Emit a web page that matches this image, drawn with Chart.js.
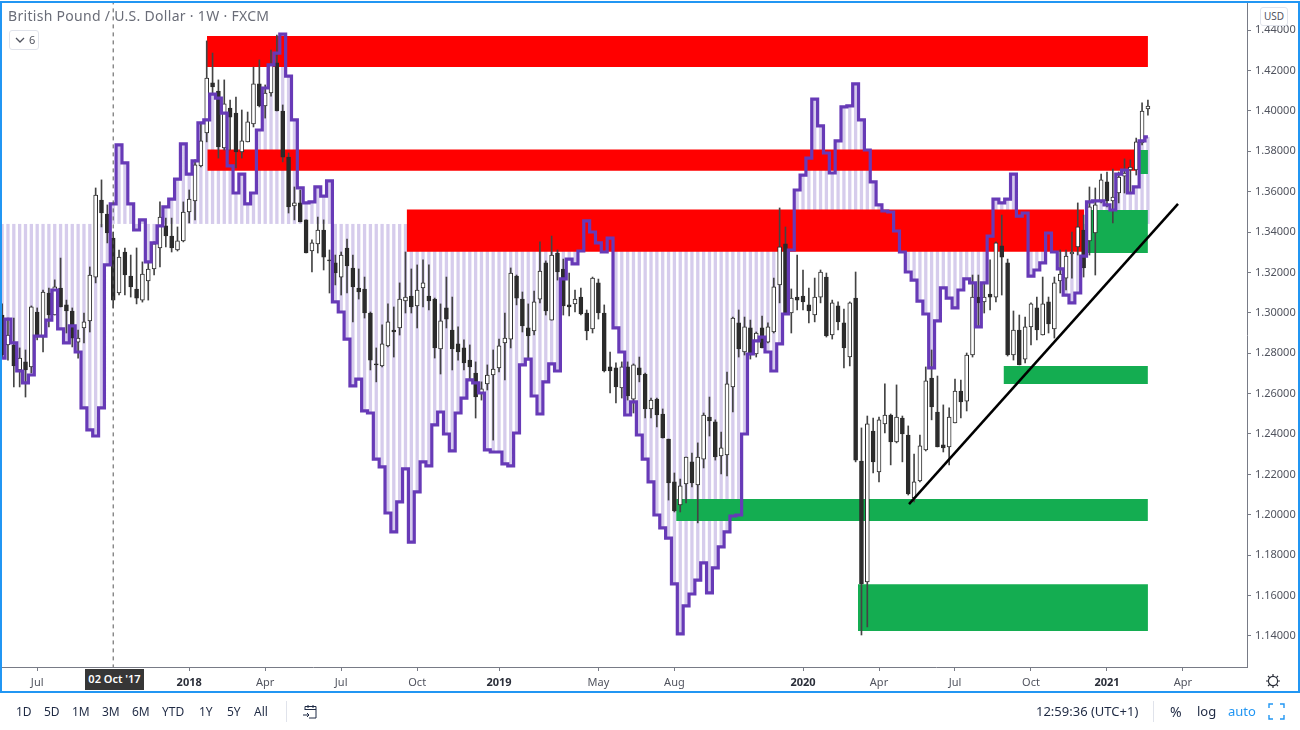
<!DOCTYPE html>
<html>
<head>
<meta charset="utf-8">
<title>British Pound / U.S. Dollar</title>
<script src="https://cdn.jsdelivr.net/npm/chart.js@4/dist/chart.umd.js"></script>
<style>
    html, body { margin: 0; padding: 0; background: #fff; width: 1300px; height: 730px; overflow: hidden; font-family: "Noto Sans", sans-serif; }
    #wrap { position: relative; width: 1300px; height: 730px; }
    canvas { position: absolute; left: 0; top: 0; }
    #frame { position: absolute; left: 0; top: 1px; width: 1296px; height: 688px; border: 2px solid #2196f3; pointer-events: none; }
    .txt { position: absolute; white-space: nowrap; }
    #title { left: 8px; top: 6px; font-size: 14px; letter-spacing: 0.3px; color: #6a6d78; }
    #legendBtn { left: 9px; top: 30px; width: 28px; height: 18px; border: 1px solid #e0e3eb; border-radius: 3px; background: #fff; font-size: 11px; color: #50535e; line-height: 18px; }
    #legendBtn span { position: absolute; left: 19px; }
    #legendBtn svg { position: absolute; left: 5px; top: 6px; }
    #usd { left: 1260px; top: 7px; width: 26px; height: 17px; border: 1px solid #e0e3eb; border-radius: 3px; background: #fff; font-size: 10px; color: #50535e; line-height: 17px; text-align: center; }
    #crossDate { left: 85px; top: 669px; width: 59px; height: 21px; background: #363636; color: #fff; font-size: 11px; line-height: 19px; text-align: center; font-weight: 600; }
    .range { top: 703px; font-size: 12px; color: #1f2a44; }
    .sep { position: absolute; top: 701px; width: 1px; height: 21px; background: #e0e3eb; }
</style>
</head>
<body>
<div id="wrap">
    <canvas id="chart" width="1300" height="730"></canvas>
    <div id="frame"></div>
    <div class="txt" id="title">British Pound / U.S. Dollar · 1W · FXCM</div>
    <div class="txt" id="legendBtn"><svg width="10" height="6" viewBox="0 0 10 6"><path d="M1 1l4 4 4-4" fill="none" stroke="#50535e" stroke-width="1.3"/></svg><span>6</span></div>
    <div class="txt" id="usd">USD</div>
    <div class="txt" id="crossDate">02 Oct '17</div>
    <div id="rangeBar"></div>
    <div class="sep" style="left:286px"></div>
    <svg style="position:absolute;left:302px;top:703px" width="17" height="17" viewBox="0 0 17 17"><path d="M3 7V3.5h11V15H7M3 6.5h11M6 2v3M11 2v3M1 12h6M5 10l2 2-2 2" fill="none" stroke="#1f2a44" stroke-width="1"/></svg>
    <div class="txt" style="left:1036px;top:702px;font-size:13px;color:#1f2a44">12:59:36 (UTC+1)</div>
    <div class="sep" style="left:1153px"></div>
    <div class="txt" style="left:1170px;top:702px;font-size:14px;color:#1f2a44">%</div>
    <div class="txt" style="left:1197px;top:702px;font-size:13px;color:#1f2a44">log</div>
    <div class="txt" style="left:1228px;top:702px;font-size:13px;color:#2196f3">auto</div>
    <svg style="position:absolute;left:1268px;top:703px" width="17" height="17" viewBox="0 0 17 17"><path d="M1 5V1h4M12 1h4v4M16 12v4h-4M5 16H1v-4" fill="none" stroke="#2196f3" stroke-width="1.4"/></svg>
    <svg style="position:absolute;left:1265px;top:673px" width="16" height="16" viewBox="0 0 16 16"><circle cx="8" cy="8" r="4.6" fill="none" stroke="#2a2e39" stroke-width="1.2"/><path d="M8 1v2.4M8 12.6V15M1 8h2.4M12.6 8H15M3 3l1.7 1.7M11.3 11.3L13 13M13 3l-1.7 1.7M4.7 11.3L3 13" stroke="#2a2e39" stroke-width="1.2"/></svg>
</div>
<script>
// weekly candles (first bar = late May 2017)
const opens = [1.2989,1.2841,1.2841,1.2717,1.2757,1.2732,1.3004,1.2880,1.3098,1.2989,1.3123,1.3039,1.3009,1.2855,1.2925,1.2960,1.3177,1.3558,1.3489,1.3370,1.3098,1.3301,1.3182,1.3118,1.3063,1.3158,1.3217,1.3321,1.3430,1.3380,1.3311,1.3356,1.3499,1.3554,1.3727,1.3890,1.4138,1.4098,1.3816,1.4014,1.3989,1.3796,1.3846,1.3935,1.4133,1.4024,1.4088,1.4237,1.3999,1.3771,1.3529,1.3544,1.3460,1.3306,1.3341,1.3410,1.3262,1.3247,1.3177,1.3321,1.3222,1.3123,1.3118,1.2999,1.2747,1.2737,1.2836,1.2915,1.2925,1.3059,1.3083,1.3034,1.3123,1.3083,1.3068,1.2821,1.3024,1.2915,1.2846,1.2826,1.2766,1.2702,1.2603,1.2648,1.2692,1.2727,1.2851,1.2870,1.3182,1.3068,1.2925,1.2910,1.3068,1.3247,1.2964,1.3296,1.3217,1.3039,1.3044,1.3078,1.2999,1.2920,1.3148,1.2999,1.2732,1.2727,1.2628,1.2732,1.2573,1.2727,1.2697,1.2524,1.2573,1.2499,1.2375,1.2163,1.2049,1.2153,1.2262,1.2148,1.2276,1.2484,1.2460,1.2291,1.2296,1.2633,1.2950,1.2806,1.2925,1.2796,1.2925,1.2855,1.2905,1.3138,1.3341,1.2999,1.3078,1.3083,1.3039,1.2989,1.3078,1.3177,1.2890,1.3034,1.2950,1.2781,1.3073,1.2266,1.1668,1.2415,1.2212,1.2450,1.2494,1.2361,1.2479,1.2395,1.2083,1.2168,1.2321,1.2677,1.2509,1.2346,1.2336,1.2455,1.2613,1.2563,1.2791,1.3078,1.3054,1.3093,1.3078,1.3331,1.3247,1.2791,1.2915,1.2771,1.2930,1.3024,1.2890,1.3054,1.2920,1.3158,1.3172,1.3291,1.3326,1.3410,1.3356,1.3395,1.3554,1.3648,1.3554,1.3593,1.3677,1.3707,1.3707,1.3841,1.4009];
const highs = [1.3044,1.2974,1.2974,1.2826,1.2816,1.3034,1.3024,1.3113,1.3123,1.3163,1.3271,1.3063,1.3024,1.2915,1.2999,1.3227,1.3618,1.3658,1.3534,1.3400,1.3311,1.3321,1.3286,1.3321,1.3252,1.3252,1.3351,1.3549,1.3469,1.3469,1.3425,1.3549,1.3608,1.3757,1.3940,1.4346,1.4286,1.4153,1.4153,1.4053,1.4068,1.4004,1.3994,1.4217,1.4252,1.4128,1.4301,1.4375,1.4029,1.3791,1.3623,1.3608,1.3460,1.3361,1.3474,1.3460,1.3311,1.3286,1.3301,1.3365,1.3286,1.3217,1.3177,1.3004,1.2826,1.2940,1.3044,1.3029,1.3148,1.3301,1.3217,1.3237,1.3262,1.3237,1.3073,1.3044,1.3177,1.3078,1.2930,1.2866,1.2841,1.2757,1.2658,1.2742,1.2816,1.2870,1.2999,1.3222,1.3187,1.3103,1.3044,1.3108,1.3351,1.3257,1.3380,1.3311,1.3266,1.3197,1.3113,1.3123,1.3014,1.3177,1.3167,1.3039,1.2806,1.2752,1.2757,1.2757,1.2747,1.2781,1.2702,1.2578,1.2578,1.2524,1.2375,1.2207,1.2177,1.2286,1.2306,1.2356,1.2504,1.2583,1.2470,1.2410,1.2707,1.2979,1.3014,1.2979,1.2964,1.2905,1.2984,1.2950,1.3172,1.3519,1.3425,1.3118,1.3286,1.3212,1.3123,1.3172,1.3212,1.3197,1.3063,1.3054,1.3019,1.3054,1.3202,1.2430,1.2489,1.2479,1.2484,1.2648,1.2499,1.2643,1.2489,1.2440,1.2301,1.2395,1.2732,1.2816,1.2687,1.2544,1.2529,1.2672,1.2667,1.2801,1.3187,1.3187,1.3148,1.3262,1.3351,1.3484,1.3266,1.3009,1.2989,1.2979,1.3049,1.3078,1.3177,1.3078,1.3177,1.3311,1.3311,1.3400,1.3544,1.3484,1.3623,1.3618,1.3687,1.3697,1.3712,1.3697,1.3762,1.3757,1.3865,1.4039,1.4053];
const lows = [1.2776,1.2766,1.2633,1.2633,1.2583,1.2702,1.2866,1.2806,1.2930,1.2989,1.3029,1.2900,1.2831,1.2776,1.2851,1.2905,1.3148,1.3425,1.3346,1.3024,1.3088,1.3088,1.3078,1.3044,1.3053,1.3063,1.3187,1.3227,1.3326,1.3301,1.3306,1.3351,1.3445,1.3460,1.3722,1.3846,1.4088,1.3766,1.3806,1.3806,1.3717,1.3766,1.3846,1.3920,1.4019,1.3964,1.4073,1.3999,1.3747,1.3494,1.3460,1.3450,1.3296,1.3202,1.3296,1.3212,1.3098,1.3138,1.3088,1.3098,1.2955,1.3068,1.2974,1.2717,1.2658,1.2732,1.2831,1.2781,1.2890,1.2999,1.2999,1.2925,1.3029,1.3014,1.2776,1.2697,1.2925,1.2717,1.2766,1.2717,1.2668,1.2479,1.2568,1.2618,1.2370,1.2707,1.2668,1.2826,1.3039,1.2905,1.2776,1.2890,1.3049,1.2989,1.2964,1.3162,1.2989,1.2984,1.3004,1.2989,1.2866,1.2900,1.2969,1.2707,1.2603,1.2554,1.2578,1.2568,1.2504,1.2658,1.2479,1.2479,1.2435,1.2380,1.2073,1.2014,1.2014,1.2059,1.2138,1.1960,1.2232,1.2390,1.2271,1.2202,1.2192,1.2509,1.2781,1.2791,1.2771,1.2781,1.2826,1.2851,1.2900,1.3049,1.2999,1.2900,1.3014,1.3014,1.2950,1.2955,1.3049,1.2880,1.2870,1.2915,1.2727,1.2737,1.2262,1.1405,1.1445,1.2207,1.2163,1.2405,1.2247,1.2356,1.2262,1.2098,1.2064,1.2163,1.2316,1.2470,1.2336,1.2311,1.2247,1.2455,1.2479,1.2514,1.2781,1.2930,1.2999,1.3014,1.3054,1.3088,1.2786,1.2766,1.2742,1.2752,1.2841,1.2866,1.2890,1.2900,1.2875,1.3098,1.3113,1.3172,1.3286,1.3177,1.3286,1.3187,1.3544,1.3524,1.3445,1.3544,1.3593,1.3598,1.3682,1.3831,1.3979];
const closes = [1.2791,1.2890,1.2737,1.2776,1.2717,1.3029,1.2890,1.3103,1.2989,1.3128,1.3029,1.3009,1.2875,1.2875,1.2955,1.3187,1.3583,1.3494,1.3395,1.3063,1.3276,1.3187,1.3128,1.3073,1.3192,1.3217,1.3341,1.3474,1.3380,1.3321,1.3356,1.3499,1.3563,1.3732,1.3851,1.4162,1.4118,1.3821,1.4034,1.3969,1.3796,1.3851,1.3945,1.4133,1.4024,1.4088,1.4227,1.3999,1.3771,1.3524,1.3544,1.3450,1.3296,1.3346,1.3410,1.3276,1.3257,1.3197,1.3286,1.3232,1.3128,1.3103,1.2999,1.2766,1.2742,1.2846,1.2955,1.2905,1.3068,1.3078,1.3029,1.3113,1.3148,1.3059,1.2826,1.2960,1.2969,1.2821,1.2806,1.2752,1.2732,1.2583,1.2623,1.2692,1.2722,1.2836,1.2875,1.3197,1.3073,1.2935,1.2885,1.3054,1.3207,1.3009,1.3286,1.3202,1.3034,1.3029,1.3068,1.2994,1.2910,1.3172,1.2999,1.2712,1.2712,1.2633,1.2732,1.2588,1.2742,1.2692,1.2524,1.2568,1.2494,1.2380,1.2158,1.2019,1.2143,1.2286,1.2158,1.2286,1.2494,1.2465,1.2286,1.2331,1.2648,1.2974,1.2821,1.2930,1.2791,1.2900,1.2826,1.2930,1.3128,1.3326,1.2999,1.3073,1.3063,1.3054,1.3009,1.3078,1.3202,1.2885,1.3049,1.2955,1.2826,1.3049,1.2271,1.1658,1.2450,1.2262,1.2470,1.2494,1.2361,1.2484,1.2400,1.2103,1.2163,1.2341,1.2663,1.2534,1.2336,1.2331,1.2484,1.2613,1.2559,1.2791,1.3078,1.3049,1.3078,1.3078,1.3346,1.3276,1.2791,1.2915,1.2742,1.2930,1.3044,1.2915,1.3044,1.2945,1.3148,1.3192,1.3281,1.3301,1.3425,1.3222,1.3524,1.3534,1.3658,1.3554,1.3573,1.3672,1.3692,1.3722,1.3846,1.3999,1.4024];

// purple stepped line (same weeks), and the level its hatching hangs from
const stepValues = [1.2776,1.2969,1.2851,1.2712,1.2653,1.2692,1.2885,1.2885,1.2964,1.3113,1.2920,1.2851,1.2935,1.2806,1.2529,1.2420,1.2390,1.2529,1.3237,1.3539,1.3831,1.3742,1.3539,1.3410,1.3460,1.3252,1.3346,1.3430,1.3524,1.3563,1.3662,1.3836,1.3687,1.3752,1.3940,1.3955,1.4083,1.4063,1.3989,1.3727,1.3593,1.3687,1.3539,1.3593,1.3905,1.4113,1.4227,1.4286,1.4380,1.4172,1.3955,1.3618,1.3544,1.3549,1.3623,1.3578,1.3653,1.3054,1.3004,1.2870,1.2638,1.2672,1.2514,1.2504,1.2276,1.2237,1.2009,1.1915,1.2064,1.2227,1.1865,1.2113,1.2262,1.2242,1.2445,1.2509,1.2400,1.2316,1.2504,1.2578,1.2668,1.2653,1.2603,1.2321,1.2311,1.2311,1.2252,1.2242,1.2405,1.2742,1.2771,1.2588,1.2499,1.2658,1.2747,1.2712,1.3168,1.3266,1.3242,1.3306,1.3455,1.3400,1.3346,1.3301,1.3370,1.2925,1.2806,1.2494,1.2559,1.2395,1.2276,1.2163,1.1999,1.1935,1.1885,1.1658,1.1410,1.1549,1.1608,1.1677,1.1762,1.1613,1.1737,1.1841,1.1915,1.1994,1.1999,1.2400,1.2796,1.2861,1.2880,1.2806,1.2712,1.2846,1.2994,1.3311,1.3608,1.3682,1.3766,1.4058,1.3925,1.3791,1.3692,1.3851,1.4019,1.4024,1.4133,1.3955,1.3806,1.3648,1.3534,1.3504,1.3499,1.3405,1.3301,1.3202,1.3162,1.3058,1.2994,1.2727,1.2960,1.3123,1.3073,1.3024,1.3113,1.3168,1.3148,1.2930,1.3148,1.3380,1.3563,1.3544,1.3563,1.3687,1.3479,1.3494,1.3182,1.3212,1.3247,1.3395,1.3301,1.3217,1.3088,1.3049,1.3098,1.3281,1.3549,1.3554,1.3554,1.3534,1.3509,1.3687,1.3707,1.3593,1.3623,1.3851,1.3871];
const baseLevel = 1.344;

// drawn zones: [first week, last week, low, high]
const redZones = [[35.05, 196, 1.4217, 1.4370], [35.1, 194, 1.3703, 1.3809], [69.2, 185.1, 1.3302, 1.3512]];
const greenZones = [[194.3, 196, 1.3687, 1.3806], [185.3, 196, 1.3296, 1.3509], [171.3, 196, 1.2648, 1.2737], [115.3, 196, 1.1969, 1.2078], [146.4, 196, 1.1425, 1.1656]];
const trendLine = [[155.13, 1.2053], [201.15, 1.3539]];
const crossWeek = 19;

const priceTicks = [1.14,1.16,1.18,1.20,1.22,1.24,1.26,1.28,1.30,1.32,1.34,1.36,1.38,1.40,1.42,1.44];
const timeTickWeeks = [6, 32, 45, 58, 71, 85, 102, 115, 137, 150, 163, 176, 189, 202];
const timeTickLabels = ['Jul','2018','Apr','Jul','Oct','2019','May','Aug','2020','Apr','Jul','Oct','2021','Apr'];
const rangeLabels = [['1D',16],['5D',44],['1M',72],['3M',102],['6M',132],['YTD',162],['1Y',199],['5Y',227],['All',254]];

const weeks = opens.map((_, i) => i);
const axisGray = '#787b86';
const tickText = '#50535e';

function zoneDataset(zone, color) {
    return {
        type: 'line',
        data: [{x: zone[0], y: zone[3]}, {x: zone[1], y: zone[3]}],
        borderWidth: 0,
        pointRadius: 0,
        fill: {value: zone[2]},
        backgroundColor: color,
        order: 9
    };
}

new Chart(document.getElementById('chart'), {
    type: 'bar',
    data: {
        datasets: [
            // hatching between the purple line and the base level
            {
                data: weeks.map(i => ({x: i, y: [baseLevel, stepValues[i]]})),
                backgroundColor: '#d6ccec',
                barThickness: 3.3,
                grouped: false,
                inflateAmount: 0,
                order: 10
            },
            ...redZones.map(z => zoneDataset(z, '#ff0000')),
            ...greenZones.map(z => zoneDataset(z, '#14ad51')),
            // wicks
            {
                data: weeks.map(i => ({x: i, y: [lows[i], highs[i]]})),
                backgroundColor: '#444444',
                barThickness: 1,
                grouped: false,
                order: 5
            },
            // bodies
            {
                data: weeks.map(i => ({x: i, y: [opens[i], closes[i]]})),
                backgroundColor: weeks.map(i => closes[i] >= opens[i] ? '#ffffff' : '#2b2b2b'),
                borderColor: '#2b2b2b',
                borderWidth: 1,
                borderSkipped: false,
                barThickness: 4,
                grouped: false,
                order: 4
            },
            {
                type: 'line',
                data: weeks.map(i => ({x: i, y: stepValues[i]})),
                borderColor: '#673ab7',
                borderWidth: 3.2,
                stepped: 'middle',
                pointRadius: 0,
                borderJoinStyle: 'miter',
                order: 3
            },
            {
                type: 'line',
                data: trendLine.map(p => ({x: p[0], y: p[1]})),
                borderColor: '#000000',
                borderWidth: 2.5,
                pointRadius: 0,
                order: 2
            },
            {
                type: 'line',
                data: [{x: crossWeek, y: 1.12}, {x: crossWeek, y: 1.46}],
                borderColor: '#555555',
                borderWidth: 1,
                borderDash: [4, 4],
                pointRadius: 0,
                order: 1
            }
        ]
    },
    options: {
        responsive: false,
        animation: false,
        events: [],
        layout: { padding: { left: 2, top: 3, right: 3, bottom: 38 } },
        plugins: { legend: { display: false }, tooltip: { enabled: false } },
        scales: {
            x: {
                type: 'linear',
                offset: false,
                min: -0.02,
                max: 212.95,
                grid: { drawOnChartArea: false, offset: false, tickLength: 4, tickColor: axisGray },
                border: { color: axisGray },
                afterBuildTicks: axis => { axis.ticks = timeTickWeeks.map(v => ({value: v})); },
                afterFit: axis => { axis.height = 25; axis.paddingLeft = 0; axis.paddingRight = 0; },
                ticks: {
                    autoSkip: false,
                    maxRotation: 0,
                    padding: 5,
                    color: ctx => timeTickLabels[ctx.index] && timeTickLabels[ctx.index].length === 4 ? '#2a2e39' : tickText,
                    font: ctx => ({ family: '"Noto Sans"', size: 11, weight: timeTickLabels[ctx.index] && timeTickLabels[ctx.index].length === 4 ? 'bold' : 'normal' }),
                    callback: (value, index) => timeTickLabels[index]
                }
            },
            y: {
                position: 'right',
                min: 1.12465,
                max: 1.45337,
                grid: { drawOnChartArea: false, tickLength: 4, tickColor: axisGray },
                border: { color: axisGray },
                afterBuildTicks: axis => { axis.ticks = priceTicks.map(v => ({value: v})); },
                afterFit: axis => { axis.width = 50; axis.paddingTop = 0; axis.paddingBottom = 0; },
                ticks: {
                    padding: 4,
                    color: tickText,
                    font: { family: '"Noto Sans"', size: 11 },
                    callback: value => value.toFixed(5)
                }
            }
        }
    }
});

// range buttons along the bottom
const rangeBar = document.getElementById('rangeBar');
rangeLabels.forEach(r => {
    const el = document.createElement('div');
    el.className = 'txt range';
    el.style.left = r[1] + 'px';
    el.innerText = r[0];
    rangeBar.appendChild(el);
});
</script>
</body>
</html>
